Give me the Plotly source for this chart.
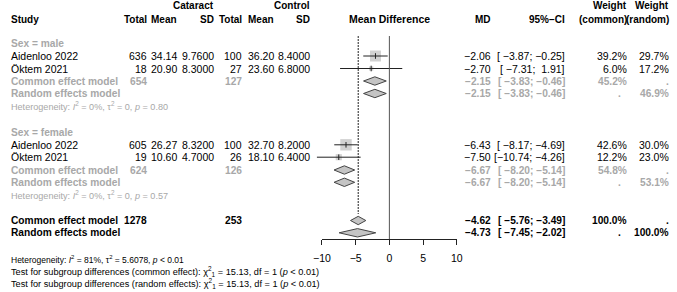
import plotly.graph_objects as go
import math

# ---------------- data ----------------
studies = ["Aidenloo 2022", "Öktem 2021", "Aidenloo 2022", "Öktem 2021"]
cat_n = [636, 18, 605, 19]
cat_mean = [34.14, 20.90, 26.27, 10.60]
cat_sd = [9.76, 8.30, 8.32, 4.70]
ctl_n = [100, 27, 100, 26]
ctl_mean = [36.20, 23.60, 32.70, 18.10]
ctl_sd = [8.40, 6.80, 8.20, 6.40]
md = [-2.06, -2.70, -6.43, -7.50]
ci_lo = [-3.87, -7.31, -8.17, -10.74]
ci_hi = [-0.25, 1.91, -4.69, -4.26]
w_common = [39.2, 6.0, 42.6, 12.2]
w_random = [29.7, 17.2, 30.0, 23.0]

sub_labels = ["Sex = male", "Sex = female"]
sub_n_cat = [654, 624]
sub_n_ctl = [127, 126]
sub_common_md = [-2.15, -6.67]
sub_common_lo = [-3.83, -8.20]
sub_common_hi = [-0.46, -5.14]
sub_random_md = [-2.15, -6.67]
sub_random_lo = [-3.83, -8.20]
sub_random_hi = [-0.46, -5.14]
sub_w_common = [45.2, 54.8]
sub_w_random = [46.9, 53.1]
sub_i2 = [0, 0]
sub_tau2 = ["0", "0"]
sub_p = ["0.80", "0.57"]

tot_n_cat = 1278
tot_n_ctl = 253
tot_common = [-4.62, -5.76, -3.49]
tot_random = [-4.73, -7.45, -2.02]
tot_i2 = 81
tot_tau2 = "5.6078"
tot_p = "&lt; 0.01"
test_chi2 = [15.13, 15.13]
test_df = [1, 1]
test_p = ["&lt; 0.01", "&lt; 0.01"]
axis_ticks = [-10, -5, 0, 5, 10]

# ---------------- layout constants ----------------
W, H = 677, 292
PX_M10, PX_P10 = 320.0, 458.0       # pixel position of -10 and +10
K = (PX_P10 - PX_M10) / 20.0
X_RANGE = [-10 - PX_M10 / K, -10 + (W - PX_M10) / K]
AXIS_Y = 239
TOP_Y = 36

Y_HDR1, Y_HDR2 = 6, 19
grp_rows = [
    dict(label=43.5, studies=[56, 68.5], common=81, random=93.5, het=106),
    dict(label=132.5, studies=[144.8, 157.2], common=170, random=182.3, het=195),
]
Y_OC, Y_OR, Y_OH, Y_T1, Y_T2 = 220.5, 232.8, 259, 271.7, 283.5

C_CAT_N, C_CAT_M, C_CAT_SD = 142, 173, 211
C_CTL_N, C_CTL_M, C_CTL_SD = 239, 272, 309
C_MD, C_CI, C_WC, C_WR = 494, 570, 633, 676
C_WC_DOT = 627

FONT = "Liberation Sans, Arial, Helvetica, sans-serif"
GRAY = "#a8a8a8"
FS = 10.5
FS_B = 10.2
FS_HDR = 10
FS_HET_SUB = 9.1
FS_HET = 8.5
FS_TEST = 9.2

MINUS = "\u2212"
NB = "\u00a0"


def f2(v):
    s = f"{abs(v):.2f}"
    return (MINUS + s) if v < 0 else s


def ci_str(lo, hi):
    a = f2(lo)
    b = f2(hi)
    a = NB * max(0, 6 - len(a)) + a
    b = NB * max(0, 5 - len(b)) + b
    return f"[{a};{NB}{b}]"


annotations = []


def txt(s, px, py, anchor="right", size=FS, color="black", bold=False):
    if bold:
        s = f"<b>{s}</b>"
    annotations.append(dict(
        text=s, x=px / W, y=1 - py / H, xref="paper", yref="paper",
        xanchor=anchor, yanchor="middle", showarrow=False, borderpad=0,
        font=dict(family=FONT, size=size, color=color)))


txt("Cataract", C_CAT_SD, Y_HDR1, size=FS_HDR, bold=True)
txt("Control", C_CTL_SD, Y_HDR1, size=FS_HDR, bold=True)
txt("Weight", C_WC, Y_HDR1, size=FS_HDR, bold=True)
txt("Weight", C_WR, Y_HDR1, size=FS_HDR, bold=True)
txt("Study", 1, Y_HDR2, anchor="left", size=FS_HDR, bold=True)
for s, c in [("Total", C_CAT_N), ("Mean", C_CAT_M), ("SD", C_CAT_SD),
             ("Total", C_CTL_N), ("Mean", C_CTL_M), ("SD", C_CTL_SD),
             ("MD", C_MD), ("95%\u2212CI", C_CI), ("(common)", C_WC), ("(random)", C_WR)]:
    txt(s, c, Y_HDR2, size=FS_HDR, bold=True)
txt("Mean Difference", (PX_M10 + PX_P10) / 2, Y_HDR2, anchor="center", bold=True)

fig = go.Figure()

sq_x, sq_y, sq_size = [], [], []
ci_x, ci_y = [], []

for g in range(2):
    r = grp_rows[g]
    txt(sub_labels[g], 1, r["label"], anchor="left", size=FS_B, color=GRAY, bold=True)
    for j in range(2):
        i = g * 2 + j
        y = r["studies"][j]
        txt(studies[i], 1, y, anchor="left")
        txt(str(cat_n[i]), C_CAT_N, y)
        txt(f"{cat_mean[i]:.2f}", C_CAT_M, y)
        txt(f"{cat_sd[i]:.4f}", C_CAT_SD, y)
        txt(str(ctl_n[i]), C_CTL_N, y)
        txt(f"{ctl_mean[i]:.2f}", C_CTL_M, y)
        txt(f"{ctl_sd[i]:.4f}", C_CTL_SD, y)
        txt(f2(md[i]), C_MD, y)
        txt(ci_str(ci_lo[i], ci_hi[i]), C_CI, y)
        txt(f"{w_common[i]:.1f}%", C_WC, y)
        txt(f"{w_random[i]:.1f}%", C_WR, y)
        sq_x.append(md[i]); sq_y.append(y); sq_size.append(1.75 * math.sqrt(w_common[i]))
        ci_x += [ci_lo[i], ci_hi[i], None]
        ci_y += [y, y, None]
    yc, yr = r["common"], r["random"]
    txt("Common effect model", 1, yc, anchor="left", size=FS_B, color=GRAY, bold=True)
    txt(str(sub_n_cat[g]), C_CAT_N, yc, size=FS_B, color=GRAY, bold=True)
    txt(str(sub_n_ctl[g]), C_CTL_N, yc, size=FS_B, color=GRAY, bold=True)
    txt(f2(sub_common_md[g]), C_MD, yc, size=FS_B, color=GRAY, bold=True)
    txt(ci_str(sub_common_lo[g], sub_common_hi[g]), C_CI, yc, size=FS_B, color=GRAY, bold=True)
    txt(f"{sub_w_common[g]:.1f}%", C_WC, yc, size=FS_B, color=GRAY, bold=True)
    txt(".", C_WR, yc, size=FS_B, color=GRAY, bold=True)
    txt("Random effects model", 1, yr, anchor="left", size=FS_B, color=GRAY, bold=True)
    txt(f2(sub_random_md[g]), C_MD, yr, size=FS_B, color=GRAY, bold=True)
    txt(ci_str(sub_random_lo[g], sub_random_hi[g]), C_CI, yr, size=FS_B, color=GRAY, bold=True)
    txt(".", C_WC_DOT, yr, size=FS_B, color=GRAY, bold=True)
    txt(f"{sub_w_random[g]:.1f}%", C_WR, yr, size=FS_B, color=GRAY, bold=True)
    txt(f"Heterogeneity: <i>I</i><sup>2</sup> = {sub_i2[g]}%, \u03c4<sup>2</sup> = {sub_tau2[g]}, <i>p</i> = {sub_p[g]}",
        1, r["het"], anchor="left", size=FS_HET_SUB, color=GRAY)

txt("Common effect model", 1, Y_OC, anchor="left", size=FS_B, bold=True)
txt(str(tot_n_cat), C_CAT_N, Y_OC, size=FS_B, bold=True)
txt(str(tot_n_ctl), C_CTL_N, Y_OC, size=FS_B, bold=True)
txt(f2(tot_common[0]), C_MD, Y_OC, size=FS_B, bold=True)
txt(ci_str(tot_common[1], tot_common[2]), C_CI, Y_OC, size=FS_B, bold=True)
txt("100.0%", C_WC, Y_OC, size=FS_B, bold=True)
txt(".", C_WR, Y_OC, size=FS_B, bold=True)
txt("Random effects model", 1, Y_OR, anchor="left", size=FS_B, bold=True)
txt(f2(tot_random[0]), C_MD, Y_OR, size=FS_B, bold=True)
txt(ci_str(tot_random[1], tot_random[2]), C_CI, Y_OR, size=FS_B, bold=True)
txt(".", C_WC_DOT, Y_OR, size=FS_B, bold=True)
txt("100.0%", C_WR, Y_OR, size=FS_B, bold=True)
txt(f"Heterogeneity: <i>I</i><sup>2</sup> = {tot_i2}%, \u03c4<sup>2</sup> = {tot_tau2}, <i>p</i> {tot_p}",
    1, Y_OH, anchor="left", size=FS_HET)
txt(f"Test for subgroup differences (common effect): \u03c7<sup>2</sup><sub>{test_df[0]}</sub> = {test_chi2[0]:.2f}, df = {test_df[0]} (<i>p</i> {test_p[0]})",
    1, Y_T1, anchor="left", size=FS_TEST)
txt(f"Test for subgroup differences (random effects): \u03c7<sup>2</sup><sub>{test_df[1]}</sub> = {test_chi2[1]:.2f}, df = {test_df[1]} (<i>p</i> {test_p[1]})",
    1, Y_T2, anchor="left", size=FS_TEST)

# ---------------- marks ----------------
fig.add_trace(go.Scatter(x=[0, 0], y=[TOP_Y, AXIS_Y], xaxis="x2", yaxis="y", mode="lines",
                         line=dict(color="#555555", width=1), hoverinfo="skip", showlegend=False))

fig.add_trace(go.Scatter(x=[tot_common[0], tot_common[0]], y=[TOP_Y, 214], mode="lines",
                         line=dict(color="#222222", width=1, dash="2px,1px"),
                         hoverinfo="skip", showlegend=False))

fig.add_trace(go.Scatter(x=sq_x, y=sq_y, mode="markers",
                         marker=dict(symbol="square", size=sq_size, color="#bebebe", line=dict(width=0)),
                         hoverinfo="skip", showlegend=False))
fig.add_trace(go.Scatter(x=ci_x, y=ci_y, mode="lines", line=dict(color="#222222", width=1),
                         hoverinfo="skip", showlegend=False))
fig.add_trace(go.Scatter(x=sq_x, y=sq_y, mode="markers",
                         marker=dict(symbol="line-ns", size=4, line=dict(color="#222222", width=1)),
                         hoverinfo="skip", showlegend=False))


def diamond(est, lo, hi, y, h=4.2):
    fig.add_trace(go.Scatter(x=[lo, est, hi, est, lo], y=[y, y - h, y, y + h, y], mode="lines",
                             fill="toself", fillcolor="#c4c4c4",
                             line=dict(color="#444444", width=1),
                             hoverinfo="skip", showlegend=False))


for g in range(2):
    r = grp_rows[g]
    diamond(sub_common_md[g], sub_common_lo[g], sub_common_hi[g], r["common"])
    diamond(sub_random_md[g], sub_random_lo[g], sub_random_hi[g], r["random"])
diamond(tot_common[0], tot_common[1], tot_common[2], Y_OC)
diamond(tot_random[0], tot_random[1], tot_random[2], Y_OR)

fig.update_layout(
    width=W, height=H, margin=dict(l=0, r=0, t=0, b=0),
    paper_bgcolor="white", plot_bgcolor="rgba(0,0,0,0)",
    annotations=annotations,
    xaxis=dict(domain=[0, 1], range=X_RANGE, visible=False, fixedrange=True),
    xaxis2=dict(domain=[PX_M10 / W, PX_P10 / W], range=[-10, 10], anchor="free",
                position=1 - AXIS_Y / H, showline=True, linecolor="#222222", linewidth=1,
                ticks="outside", ticklen=5, tickcolor="#222222", tickwidth=1,
                ticklabelstandoff=4,
                tickvals=axis_ticks,
                ticktext=[(MINUS + str(abs(t))) if t < 0 else str(t) for t in axis_ticks],
                tickfont=dict(family=FONT, size=FS, color="black"),
                showgrid=False, zeroline=False, fixedrange=True),
    yaxis=dict(domain=[0, 1], range=[H, 0], visible=False, fixedrange=True),
    showlegend=False,
)

fig.write_html("out.html", config={"displayModeBar": False},
               post_script="document.body.style.margin='0';document.body.style.padding='0';")
